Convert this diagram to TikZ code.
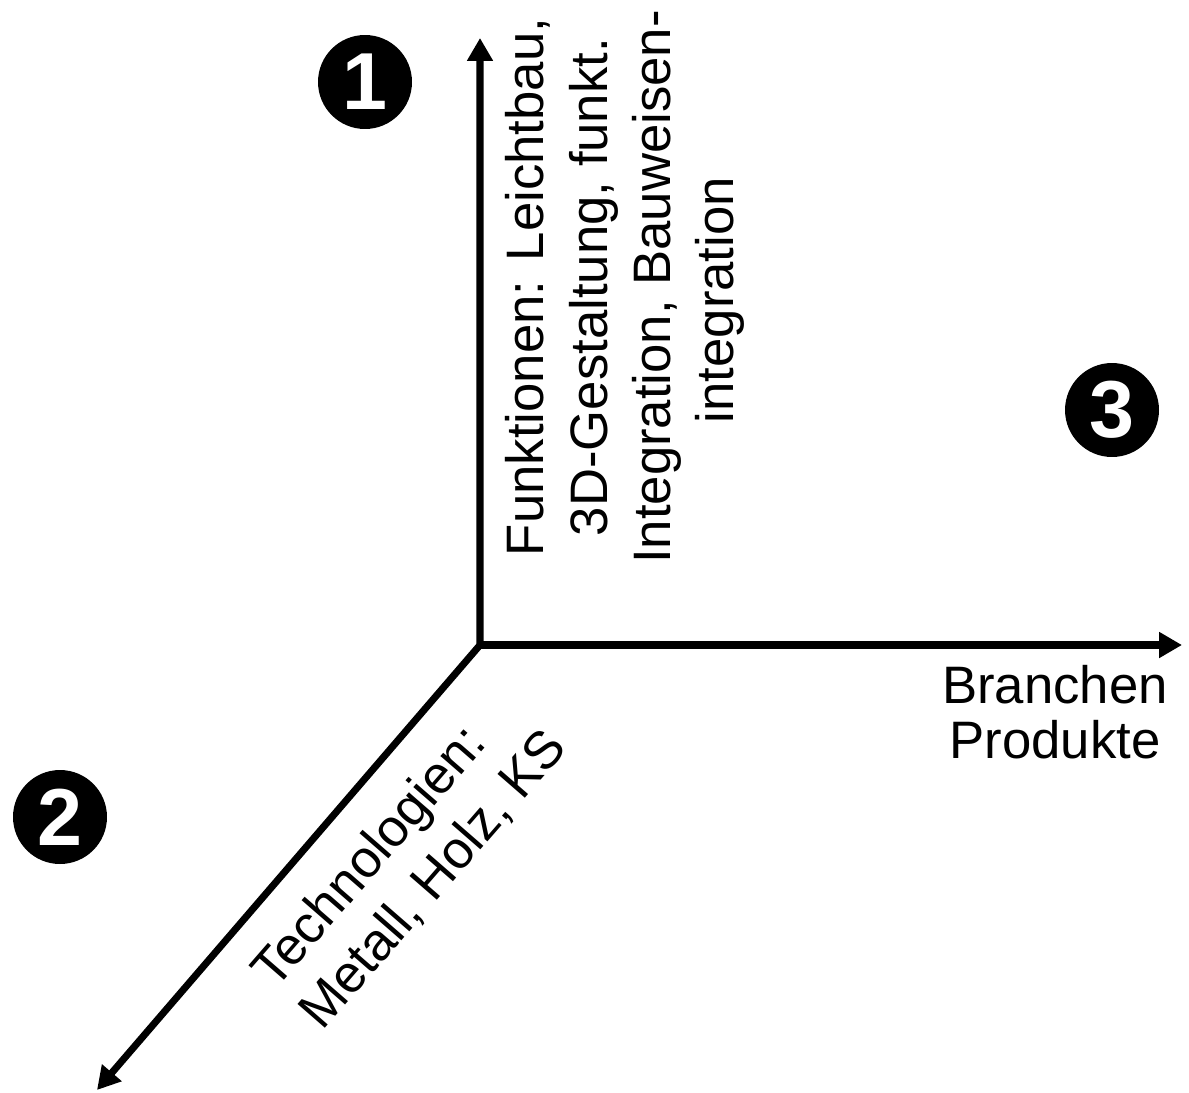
\documentclass[tikz,border=0pt]{standalone}
\usepackage{fontspec}
\setmainfont{Liberation Sans}
\usetikzlibrary{arrows.meta}
\tikzset{
  axis/.style={line width=4pt, -{Triangle[length=13pt,width=14pt]}},
  axisboth/.style={line width=4pt, {Triangle[length=13pt,width=14pt]}-{Triangle[length=13pt,width=14pt]}},
  numcirc/.style={circle, fill=black, text=white, inner sep=0pt, minimum size=1.88cm,
    font=\fontsize{46}{46}\selectfont\bfseries},
  lbl/.style={align=center, inner sep=0pt, font=\fontsize{30}{36}\selectfont},
}
\begin{document}
\begin{tikzpicture}[x=0.02cm, y=-0.02cm]
\useasboundingbox (0,0) rectangle (1189,1092);
\coordinate (O) at (480,645);
\coordinate (yT) at (480,38);
\coordinate (xT) at (1182,645);
\coordinate (dT) at (97,1090);
\draw[axisboth, line join=miter] (yT) -- (O) -- (dT);
\draw[axis] (O) -- (xT);
\node[numcirc] (n1) at (365,82) {1};
\node[numcirc] (n2) at (60,817) {2};
\node[numcirc] (n3) at (1112,410) {3};
\node[lbl, rotate=90] (funk) at (625,287) {Funktionen: Leichtbau,\\3D-Gestaltung, funkt.\\Integration, Bauweisen-\\integration\hspace*{15pt}};
\node[lbl, font=\fontsize{30}{31}\selectfont] (bran) at (1055,712) {Branchen\\Produkte};
\node[lbl, align=left, rotate=49] (tech) at (410,859) {Technologien:\\Metall, Holz, KS};
\end{tikzpicture}
\end{document}
